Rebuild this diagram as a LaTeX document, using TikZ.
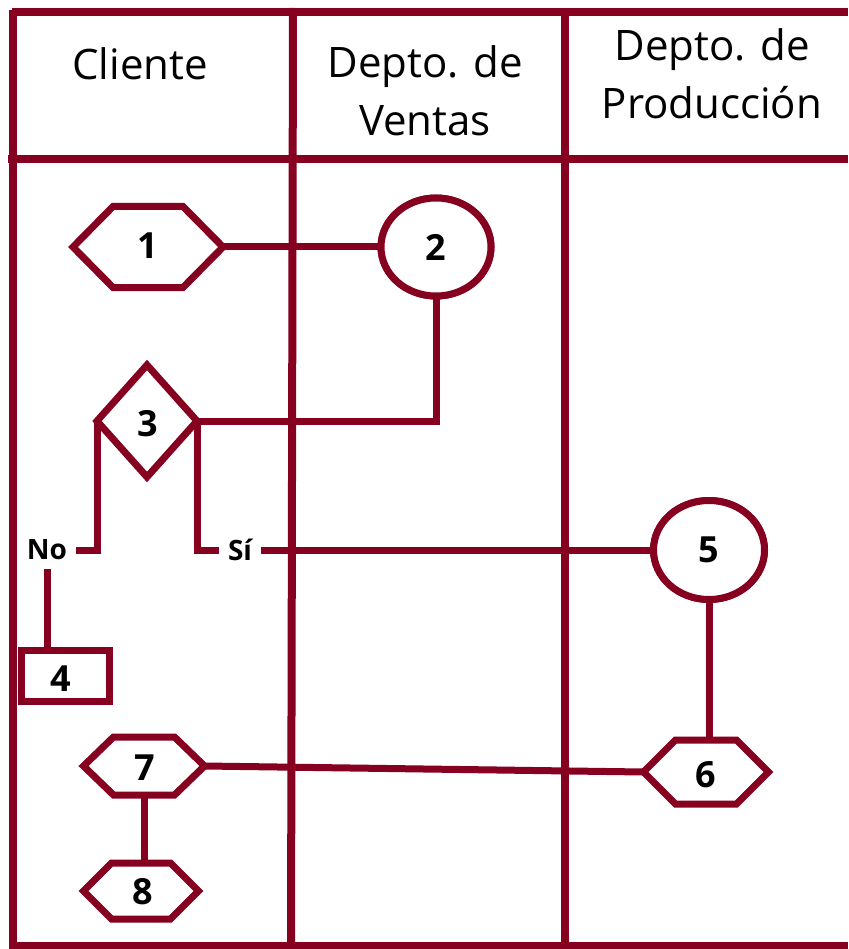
\documentclass[tikz,border=0pt]{standalone}
\usepackage{fontspec}
\setmainfont{Open Sans}
\usetikzlibrary{shapes.geometric}
\definecolor{wine}{RGB}{134,0,32}
\tikzset{
  grid/.style={draw=wine, line width=8pt},
  shp/.style={draw=wine, line width=7pt, fill=white},
  con/.style={draw=wine, line width=7pt},
  box/.style={inner sep=0pt, outer sep=0pt, font=\fontsize{36}{40}\selectfont\bfseries},
  ell/.style={ellipse, shp, inner sep=0pt, outer sep=0pt, font=\fontsize{36}{40}\selectfont\bfseries},
  lbl/.style={inner sep=0pt, outer sep=9pt, font=\fontsize{28}{32}\selectfont\bfseries},
  head/.style={align=center, inner sep=0pt, font=\fontsize{42}{58}\selectfont}
}
\newcommand\hexout[2]{%
  \draw[shp] (#1.west) -- ([xshift=#2]#1.north west) -- ([xshift=-#2]#1.north east) -- (#1.east) -- ([xshift=-#2]#1.south east) -- ([xshift=#2]#1.south west) -- cycle;}
\begin{document}
\begin{tikzpicture}[x=1pt,y=-1pt]
\useasboundingbox (0,0) rectangle (848,949);
% lanes
\draw[grid] (12,12) -- (848,12);
\draw[grid] (8,159) -- (848,159);
\draw[grid] (13,946) -- (848,946);
\draw[grid] (13,10) -- (13,949);
\draw[grid] (293,8) -- (291,949);
\draw[grid] (565,8) -- (565,949);
% headers
\node[head] (hc) at (140,64) {Cliente};
\node[head] (hv) at (425,91) {Depto. de\\Ventas};
\node[head] (hp) at (712,74) {Depto. de\\Producción};
% node boxes
\node[box, minimum width=150pt, minimum height=81pt] (h1) at (148,247) {};
\node[ell, minimum width=110pt, minimum height=98pt] (e2) at (436,247) {};
\node[box, minimum width=100pt, minimum height=112pt] (d3) at (147,421) {};
\node[box, minimum width=88pt, minimum height=51pt] (r4) at (65,676) {};
\node[ell, minimum width=111pt, minimum height=99pt] (e5) at (709,550) {};
\node[box, minimum width=125pt, minimum height=64pt] (h6) at (706,772) {};
\node[box, minimum width=121pt, minimum height=58pt] (h7) at (144,766) {};
\node[box, minimum width=115pt, minimum height=56pt] (h8) at (141,891) {};
\node[lbl] (no) at (47,550) {No};
\node[lbl] (si) at (240,550) {Sí};
% connectors
\draw[con] (h1.east) -- (e2.west);
\draw[con] (e2.south) |- (d3.east);
\draw[con] (d3.west) |- (no.east);
\draw[con] (d3.east) |- (si.west);
\draw[con] (si.east) -- (e5.west);
\draw[con] (no.south) -- (no.south |- r4.north);
\draw[con] (e5.south) -- (e5.south |- h6.north);
\draw[con] (h7.east) -- (h6.west);
\draw[con] (h7.south) -- (h7.south |- h8.north);
% shapes
\hexout{h1}{40pt}
\hexout{h6}{32pt}
\hexout{h7}{30pt}
\hexout{h8}{28pt}
\draw[shp] (d3.west) -- (d3.north) -- (d3.east) -- (d3.south) -- cycle;
\draw[shp] (r4.north west) rectangle (r4.south east);
\node[ell, minimum width=110pt, minimum height=98pt] at (e2) {2};
\node[ell, minimum width=111pt, minimum height=99pt] at (e5) {5};
% numbers
\node[box] at (148,246) {1};
\node[box] at (148,424) {3};
\node[box] at (61,679) {4};
\node[box] at (706,775) {6};
\node[box] at (145,768) {7};
\node[box] at (143,892) {8};
\end{tikzpicture}
\end{document}
